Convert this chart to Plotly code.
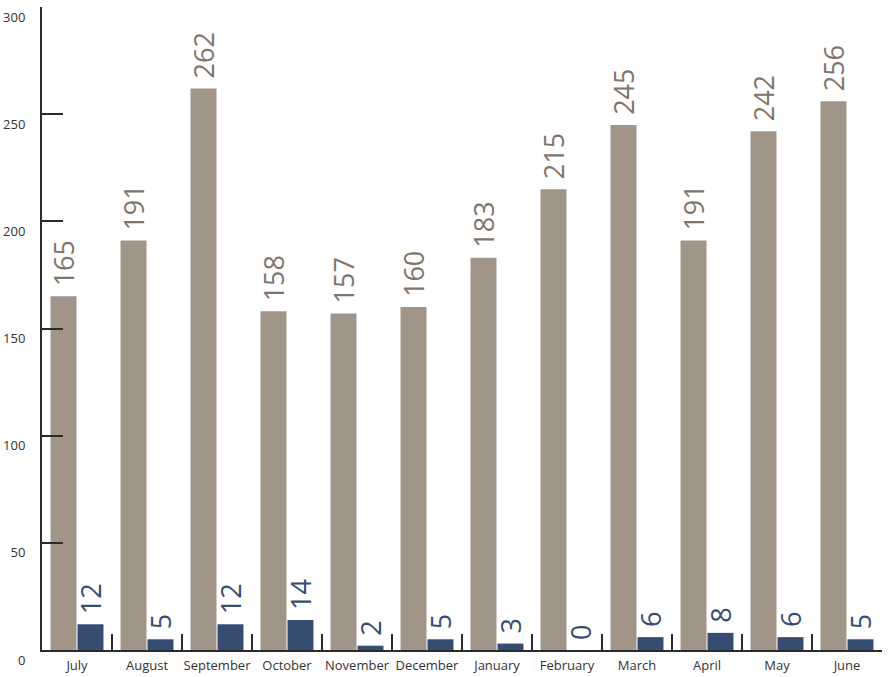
import plotly.graph_objects as go

months = ["July", "August", "September", "October", "November", "December",
          "January", "February", "March", "April", "May", "June"]
series_a = [165, 191, 262, 158, 157, 160, 183, 215, 245, 191, 242, 256]
series_b = [12, 5, 12, 14, 2, 5, 3, 0, 6, 8, 6, 5]
y_ticks = [0, 50, 100, 150, 200, 250, 300]

GRAY = "#a19589"
GRAY_TEXT = "#7f756b"
BLUE = "#364c70"
AXIS = "#2b2b2b"
FONT = "Open Sans"

fig = go.Figure()
for vals, color, tcolor in [(series_a, GRAY, GRAY_TEXT), (series_b, BLUE, BLUE)]:
    fig.add_trace(go.Bar(
        x=months, y=vals,
        marker=dict(color=color, line=dict(width=0)),
        text=[f" {v}" for v in vals],
        textposition="outside",
        textangle=-90,
        constraintext="none",
        cliponaxis=False,
        textfont=dict(family=FONT, size=27, color=tcolor),
        hoverinfo="x+y",
    ))

fig.update_layout(
    width=893, height=677,
    margin=dict(l=42, r=11, t=7, b=27),
    paper_bgcolor="white", plot_bgcolor="white",
    barmode="group", bargap=0.229, bargroupgap=0.037,
    showlegend=False,
    font=dict(family=FONT, color="#333333", size=13),
)
fig.update_xaxes(
    showgrid=False, zeroline=False, automargin=False,
    showline=True, linecolor=AXIS, linewidth=2,
    ticks="inside", tickson="boundaries", ticklen=16, tickwidth=2, tickcolor=AXIS,
    tickangle=0,
    tickfont=dict(family=FONT, size=13, color="#333333"),
    ticklabelstandoff=2,
)
fig.update_yaxes(
    range=[0, 300], showgrid=False, zeroline=False, automargin=False,
    showline=True, linecolor=AXIS, linewidth=2,
    tickvals=y_ticks, ticktext=[str(t) for t in y_ticks],
    ticks="inside", ticklen=21, tickwidth=2, tickcolor=AXIS,
    ticklabelposition="outside bottom",
    tickfont=dict(family=FONT, size=13, color="#333333"),
    ticklabelstandoff=12,
)

fig.write_html("out.html")
